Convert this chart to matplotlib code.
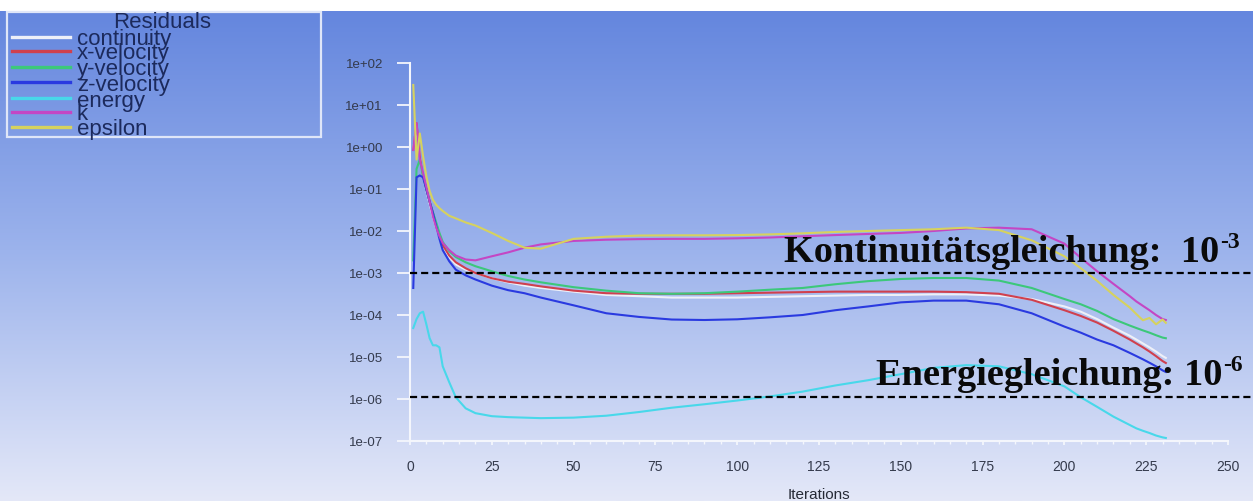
import numpy as np
import matplotlib
matplotlib.use("Agg")
import matplotlib.pyplot as plt
from matplotlib.ticker import FixedLocator, MultipleLocator, LogLocator, FuncFormatter, NullFormatter
from matplotlib.patches import Rectangle
from matplotlib.lines import Line2D

plt.rcParams['font.family'] = ['Liberation Sans', 'DejaVu Sans']

# residuals
it = [1, 2, 3, 4, 5, 6, 7, 8, 9, 10, 12, 14, 17, 20, 25, 30, 35, 40, 50, 60,
      70, 80, 90, 100, 110, 120, 130, 140, 150, 160, 170, 180, 190, 200, 205,
      210, 215, 220, 222, 224, 226, 228, 230, 231]

continuity = [0.9, 3.0, 0.6, 0.2, 0.09, 0.045, 0.022, 0.012, 7e-3, 4.5e-3, 2.4e-3, 1.6e-3, 1.2e-3, 1.0e-3,
              7.5e-4, 6e-4, 5e-4, 4.4e-4, 3.6e-4, 3.0e-4, 2.8e-4, 2.6e-4, 2.6e-4, 2.6e-4, 2.7e-4, 2.8e-4,
              2.9e-4, 3.0e-4, 3.0e-4, 3.1e-4, 3.1e-4, 2.9e-4, 2.4e-4, 1.6e-4, 1.2e-4, 8e-5, 5e-5, 3.2e-5,
              2.6e-5, 2.1e-5, 1.7e-5, 1.35e-5, 1.05e-5, 9.5e-6]
x_velocity = [0.85, 3.7, 0.6, 0.2, 0.1, 0.05, 0.027, 0.014, 8e-3, 4.6e-3, 2.6e-3, 1.8e-3, 1.3e-3, 1.0e-3,
              7.5e-4, 6.2e-4, 5.5e-4, 4.8e-4, 3.8e-4, 3.3e-4, 3.2e-4, 3.2e-4, 3.2e-4, 3.3e-4, 3.4e-4, 3.5e-4,
              3.6e-4, 3.6e-4, 3.6e-4, 3.6e-4, 3.5e-4, 3.2e-4, 2.3e-4, 1.3e-4, 9.5e-5, 6.6e-5, 4.2e-5, 2.6e-5,
              2.1e-5, 1.7e-5, 1.35e-5, 1.05e-5, 8e-6, 7.2e-6]
y_velocity = [2e-3, 0.3, 0.5, 0.2, 0.1, 0.05, 0.028, 0.016, 9e-3, 5.5e-3, 3.3e-3, 2.4e-3, 1.8e-3, 1.45e-3,
              1.1e-3, 8.5e-4, 7e-4, 6e-4, 4.6e-4, 3.8e-4, 3.3e-4, 3.2e-4, 3.3e-4, 3.6e-4, 4e-4, 4.4e-4,
              5.4e-4, 6.4e-4, 7.2e-4, 7.6e-4, 7.6e-4, 6.6e-4, 4.4e-4, 2.4e-4, 1.8e-4, 1.25e-4, 8e-5, 5.6e-5,
              4.9e-5, 4.3e-5, 3.8e-5, 3.3e-5, 2.9e-5, 2.8e-5]
z_velocity = [4.4e-4, 0.19, 0.21, 0.19, 0.095, 0.05, 0.027, 0.013, 6.5e-3, 3.5e-3, 1.9e-3, 1.2e-3, 8.8e-4, 7e-4,
              5e-4, 3.9e-4, 3.3e-4, 2.6e-4, 1.7e-4, 1.1e-4, 9e-5, 7.8e-5, 7.6e-5, 7.9e-5, 8.8e-5, 1.0e-4,
              1.3e-4, 1.6e-4, 2e-4, 2.2e-4, 2.2e-4, 1.8e-4, 1.1e-4, 5.3e-5, 3.8e-5, 2.6e-5, 1.9e-5, 1.25e-5,
              1.05e-5, 8.8e-6, 7.3e-6, 6e-6, 4.8e-6, 4.4e-6]
energy = [4.9e-5, 8e-5, 1.1e-4, 1.2e-4, 6e-5, 2.8e-5, 1.9e-5, 1.9e-5, 1.7e-5, 6e-6, 2.5e-6, 1.1e-6, 6e-7, 4.6e-7,
          3.9e-7, 3.7e-7, 3.6e-7, 3.5e-7, 3.6e-7, 4e-7, 4.9e-7, 6.2e-7, 7.5e-7, 9.2e-7, 1.15e-6, 1.5e-6,
          2.1e-6, 2.8e-6, 3.9e-6, 5.5e-6, 6.4e-6, 6e-6, 3.9e-6, 2e-6, 1.1e-6, 6.5e-7, 3.8e-7, 2.4e-7,
          2e-7, 1.75e-7, 1.55e-7, 1.35e-7, 1.22e-7, 1.18e-7]
k = [0.85, 3.7, 0.5, 0.24, 0.11, 0.05, 0.022, 0.012, 7.5e-3, 5.2e-3, 3.5e-3, 2.6e-3, 2.1e-3, 2e-3,
     2.5e-3, 3.1e-3, 4e-3, 4.8e-3, 5.8e-3, 6.2e-3, 6.4e-3, 6.5e-3, 6.5e-3, 6.7e-3, 7e-3, 7.5e-3,
     8e-3, 8.5e-3, 9e-3, 1.0e-2, 1.15e-2, 1.2e-2, 1.1e-2, 5e-3, 2.3e-3, 1.1e-3, 5.5e-4, 2.8e-4,
     2.1e-4, 1.65e-4, 1.3e-4, 1e-4, 8e-5, 7.6e-5]
epsilon = [30, 0.5, 2.1, 0.6, 0.2, 0.09, 0.055, 0.042, 0.035, 0.03, 0.023, 0.02, 0.016, 0.0135,
           9e-3, 5.8e-3, 4e-3, 3.8e-3, 6.5e-3, 7.3e-3, 7.8e-3, 7.9e-3, 7.9e-3, 8e-3, 8.3e-3, 8.8e-3,
           9.5e-3, 1.0e-2, 1.05e-2, 1.1e-2, 1.2e-2, 1.05e-2, 6e-3, 2.5e-3, 1.3e-3, 6.5e-4, 3e-4, 1.5e-4,
           1.05e-4, 7.5e-5, 8.5e-5, 6e-5, 7.8e-5, 6.5e-5]

names = ['continuity', 'x-velocity', 'y-velocity', 'z-velocity', 'energy', 'k', 'epsilon']
series = [continuity, x_velocity, y_velocity, z_velocity, energy, k, epsilon]
colors = ['#eef0f8', '#d0404e', '#3cc87a', '#2a3ae0', '#48d8ea', '#c446c4', '#d6d25e']

yticks = [1e2, 1e1, 1e0, 1e-1, 1e-2, 1e-3, 1e-4, 1e-5, 1e-6, 1e-7]
limits = [1e-3, 1.1e-6]
notes = [('Kontinuitätsgleichung:  10', '-3'), ('Energiegleichung: 10', '-6')]

W, H = 1253, 501
fig = plt.figure(figsize=(W / 100, H / 100), dpi=100)

# background gradient
bg = fig.add_axes([0, 0, 1, 1], zorder=-10)
rows = np.linspace(0, 1, H)
stops_y = [0.0, 0.02, 0.021, 0.5, 1.0]
stops_c = np.array([[255, 255, 255], [255, 255, 255], [100, 134, 222], [156, 179, 236], [228, 232, 248]]) / 255
grad = np.stack([np.interp(rows, stops_y, stops_c[:, c]) for c in range(3)], axis=1)
bg.imshow(grad[:, None, :], aspect='auto', extent=[0, 1, 0, 1])
bg.set_axis_off()

ax = fig.add_axes([410 / W, 1 - 441 / H, 818 / W, 378 / H])
ax.patch.set_alpha(0)
for name, vals, col in zip(names, series, colors):
    ax.plot(it, vals, color=col, lw=1.5, label=name)

for v in limits:
    ax.axhline(v, xmin=0, xmax=(W - 410) / 818, color='black', lw=1.6,
               dashes=(3.2, 1.8), clip_on=False, zorder=5)

ax.set_yscale('log')
ax.set_ylim(1e-7, 1e2)
ax.set_xlim(0, 250)
ax.yaxis.set_major_locator(FixedLocator(yticks))
ax.yaxis.set_major_formatter(FuncFormatter(lambda v, p: format(v, '.0e')))
ax.yaxis.set_minor_locator(LogLocator(base=10, subs=(2, 4, 6, 8)))
ax.yaxis.set_minor_formatter(NullFormatter())
ax.xaxis.set_major_locator(MultipleLocator(25))
ax.xaxis.set_minor_locator(MultipleLocator(5))

for s in ['top', 'right']:
    ax.spines[s].set_visible(False)
for s in ['left', 'bottom']:
    ax.spines[s].set_color('#f4f6fc')
    ax.spines[s].set_linewidth(1.5)
ax.tick_params(axis='y', which='major', length=9.5, width=1.3, color='#f4f6fc',
               labelsize=9.5, labelcolor='#343a4c', pad=10)
ax.tick_params(axis='y', which='minor', length=4, width=1, color='#f4f6fc')
ax.tick_params(axis='x', which='major', length=3, width=1.3, color='#f4f6fc',
               labelsize=10, labelcolor='#343a4c', pad=11)
ax.tick_params(axis='x', which='minor', length=2, width=1, color='#f4f6fc')

fig.text(819 / W, 1 - 495 / H, 'Iterations', ha='center', va='center',
         fontsize=11, color='#262a36')

# annotations, exponent drawn as a separate smaller text
big = dict(va='baseline', family='Liberation Serif', weight='bold', color='#0a0a0a')
r = fig.canvas.get_renderer()
for (main, sup), xr, yb in zip(notes, [1240, 1243], [262, 385]):
    st = fig.text(xr / W, 1 - (yb - 14) / H, sup, ha='right', fontsize=17, **big)
    bb = st.get_window_extent(r)
    fig.text((bb.x0 - 1) / W, 1 - yb / H, main, ha='right', fontsize=27.6, **big)

# legend box in the top left corner
fig.add_artist(Rectangle((7 / W, 1 - 137 / H), 314 / W, 125 / H, transform=fig.transFigure,
                         fill=False, edgecolor='#dfe6f8', lw=1.6))
fig.text(162 / W, 1 - 22 / H, 'Residuals', ha='center', va='center',
         fontsize=16, color='#1c2a5c')
ys = [37, 51, 67, 82, 98, 112, 127]
for name, col, yy in zip(names, colors, ys):
    fig.add_artist(Line2D([12 / W, 70 / W], [1 - yy / H, 1 - yy / H],
                          transform=fig.transFigure, color=col, lw=2.4))
    fig.text(77 / W, 1 - (yy + 3) / H, name, ha='left', va='center',
             fontsize=16, color='#1c2a5c')

fig.savefig('out.png', dpi=100)
